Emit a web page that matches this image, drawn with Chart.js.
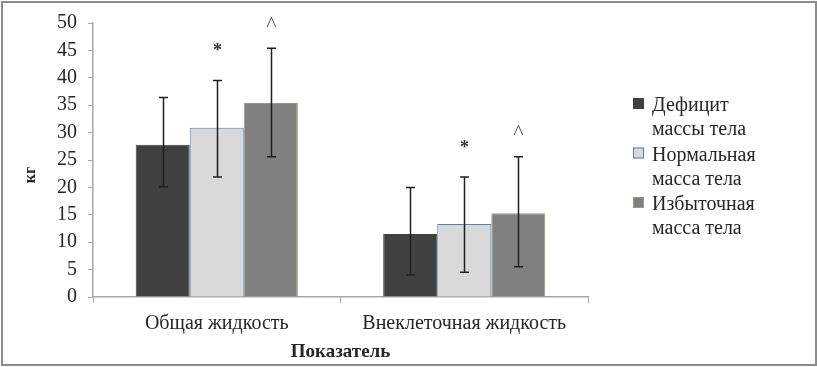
<!DOCTYPE html>
<html>
<head>
<meta charset="utf-8">
<script src="https://cdn.jsdelivr.net/npm/chart.js@4.4.1/dist/chart.umd.min.js"></script>
<style>
  html, body { margin: 0; padding: 0; background: #fff; }
  #wrap { position: relative; width: 817px; height: 367px; }
  #frame { position: absolute; left: 1px; top: 1px; width: 812px; height: 361px; border: 2px solid #8c8c8c; pointer-events: none; }
</style>
</head>
<body>
<div id="wrap">
  <canvas id="chart" width="817" height="367"></canvas>
  <div id="frame"></div>
</div>
<script>
// Categories and series (kg)
const categories = ["Общая жидкость", "Внеклеточная жидкость"];
const seriesNames = ["Дефицит массы тела", "Нормальная масса тела", "Избыточная масса тела"];
const legendLines = [["Дефицит", "массы тела"], ["Нормальная", "масса тела"], ["Избыточная", "масса тела"]];

const deficit = [27.8, 11.5];
const deficitLow = [20.1, 4.0];
const deficitHigh = [36.4, 20.0];

const normal = [30.9, 13.3];
const normalLow = [21.9, 4.5];
const normalHigh = [39.5, 21.9];

const excess = [35.4, 15.3];
const excessLow = [25.6, 5.5];
const excessHigh = [45.4, 25.6];

// significance marks over the error bars
const deficitMark = ["", ""];
const normalMark = ["*", "*"];
const excessMark = ["^", "^"];

const yTicks = [0, 5, 10, 15, 20, 25, 30, 35, 40, 45, 50];
const yTitle = "кг";
const xTitle = "Показатель";

const lows = [deficitLow, normalLow, excessLow];
const highs = [deficitHigh, normalHigh, excessHigh];
const marks = [deficitMark, normalMark, excessMark];

const SERIF = "'Liberation Serif', 'DejaVu Serif', serif";
const TEXT = "#262626";
const AXIS = "#a6a6a6";

// Error bars + marks
const errorBars = {
  id: "errorBars",
  afterDatasetsDraw(chart) {
    const ctx = chart.ctx;
    const y = chart.scales.y;
    ctx.save();
    chart.data.datasets.forEach((ds, i) => {
      const meta = chart.getDatasetMeta(i);
      meta.data.forEach((bar, j) => {
        const x = Math.round(bar.x) + 0.5;
        const top = y.getPixelForValue(highs[i][j]);
        const bot = y.getPixelForValue(lows[i][j]);
        ctx.strokeStyle = "#1f1f1f";
        ctx.lineWidth = 1.5;
        ctx.beginPath();
        ctx.moveTo(x, top); ctx.lineTo(x, bot);
        ctx.moveTo(x - 4.5, top); ctx.lineTo(x + 4.5, top);
        ctx.moveTo(x - 4.5, bot); ctx.lineTo(x + 4.5, bot);
        ctx.stroke();
        const m = marks[i][j];
        if (m) {
          ctx.fillStyle = m === "*" ? "#333" : "#595959";
          ctx.font = (m === "*" ? "bold 18px " : "22px ") + SERIF;
          ctx.textAlign = "center";
          ctx.textBaseline = "middle";
          ctx.fillText(m, x, top - (m === "*" ? 29 : 23));
        }
      });
    });
    ctx.restore();
  }
};

// y title (sits a bit below the middle, as in the source) and right legend
const sideLegend = {
  id: "sideLegend",
  afterDraw(chart) {
    const ctx = chart.ctx;
    ctx.save();
    ctx.fillStyle = TEXT;
    ctx.font = "bold 16px " + SERIF;
    ctx.textAlign = "center";
    ctx.textBaseline = "middle";
    ctx.translate(31, 175);
    ctx.rotate(-Math.PI / 2);
    ctx.fillText(yTitle, 0, 0);
    ctx.restore();

    const left = chart.chartArea.right + 45;
    let top = 98;
    ctx.save();
    ctx.font = "20px " + SERIF;
    ctx.textAlign = "left";
    ctx.textBaseline = "alphabetic";
    chart.data.datasets.forEach((ds, i) => {
      ctx.fillStyle = ds.backgroundColor;
      ctx.fillRect(left, top, 11, 11);
      ctx.strokeStyle = ds.borderColor;
      ctx.lineWidth = 1;
      ctx.strokeRect(left + 0.5, top + 0.5, 10, 10);
      ctx.fillStyle = TEXT;
      legendLines[i].forEach((line, k) => {
        ctx.fillText(line, left + 19, top + 13 + k * 24);
      });
      top += 49.5;
    });
    ctx.restore();
  }
};

const draw = () => new Chart(document.getElementById("chart"), {
  type: "bar",
  data: {
    labels: categories,
    datasets: [
      { label: seriesNames[0], data: deficit, backgroundColor: "#404040", borderColor: "#404040", borderWidth: 1 },
      { label: seriesNames[1], data: normal, backgroundColor: "#d9d9d9", borderColor: "#5a7eb5", borderWidth: 1 },
      { label: seriesNames[2], data: excess, backgroundColor: "#808080", borderColor: "#9a9a78", borderWidth: 1 }
    ]
  },
  options: {
    responsive: false,
    animation: false,
    layout: { padding: { left: 0, right: 229, top: 17, bottom: 0 } },
    datasets: { bar: { barPercentage: 1, categoryPercentage: 0.655 } },
    plugins: { legend: { display: false }, tooltip: { enabled: false } },
    scales: {
      x: {
        afterFit: (s) => { s.height = 70; },
        grid: { offset: true, drawOnChartArea: false, drawTicks: true, tickLength: 6, color: AXIS },
        border: { color: AXIS, width: 1.5 },
        ticks: { color: TEXT, font: { family: SERIF, size: 20 }, padding: 9 },
        title: { display: true, text: xTitle, color: TEXT, font: { family: SERIF, size: 19, weight: "bold" }, padding: { top: 0, bottom: 4 } }
      },
      y: {
        min: 0,
        max: 50,
        afterFit: (s) => { s.width = 93; },
        afterBuildTicks: (s) => { s.ticks = yTicks.map(v => ({ value: v })); },
        grid: { drawOnChartArea: false, drawTicks: true, tickLength: 5, color: AXIS },
        border: { color: AXIS, width: 1.5 },
        ticks: { color: TEXT, font: { family: SERIF, size: 20 }, padding: 11 }
      }
    }
  },
  plugins: [errorBars, sideLegend]
});

Promise.all([
  document.fonts.load("20px 'Liberation Serif'"),
  document.fonts.load("bold 19px 'Liberation Serif'")
]).then(draw, draw);
</script>
</body>
</html>
